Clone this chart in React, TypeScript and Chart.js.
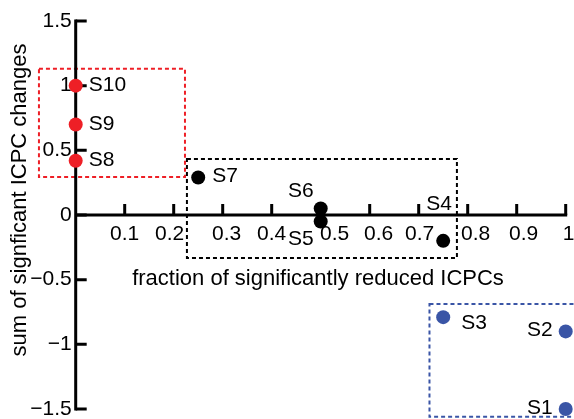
import React, { useEffect, useRef } from "react";
import { Chart, registerables } from "chart.js";

Chart.register(...registerables);

// ---- data ----
const pointNames = ["S1", "S2", "S3", "S4", "S5", "S6", "S7", "S8", "S9", "S10"];
const fractionReduced = [1.0, 1.0, 0.75, 0.75, 0.5, 0.5, 0.25, 0, 0, 0];
const sumChanges = [-1.5, -0.9, -0.79, -0.2, -0.05, 0.05, 0.29, 0.42, 0.7, 1.0];
const pointGroup = ["blue", "blue", "blue", "black", "black", "black", "black", "red", "red", "red"];

const xTickValues = [0.1, 0.2, 0.3, 0.4, 0.5, 0.6, 0.7, 0.8, 0.9, 1];
const xTickLabels = ["0.1", "0.2", "0.3", "0.4", "0.5", "0.6", "0.7", "0.8", "0.9", "1"];
const yTickValues = [-1.5, -1, -0.5, 0, 0.5, 1, 1.5];
const yTickLabels = ["\u22121.5", "\u22121", "\u22120.5", "0", "0.5", "1", "1.5"];

const boxGroup = ["red", "black", "blue"];
const boxXMin = [-0.075, 0.227, 0.722];
const boxXMax = [0.223, 0.778, 1.03];
const boxYMin = [0.294, -0.333, -1.56];
const boxYMax = [1.13, 0.433, -0.688];

const xTitle = "fraction of significantly reduced ICPCs";
const yTitle = "sum of signficant ICPC changes";

// ---- styles ----
const groupColors: Record<string, string> = {
  red: "#ee1f26",
  black: "#000000",
  blue: "#3a55a6",
};
const FONT = '"Liberation Sans", Arial, sans-serif';
// horizontal nudge (px) of each x tick label, as hand-placed in the original figure
const xTickLabelShift = [0, -4, 4, 0, 14, 9, 1, 8, 7, 3];
// label placement per point: [align, dx, dy]
const labelPlacement: [CanvasTextAlign, number, number][] = [
  ["right", -13, -1], // S1
  ["right", -13, -1], // S2
  ["left", 18, 6], // S3
  ["center", -4, -37], // S4
  ["right", -7, 18], // S5
  ["right", -7, -17], // S6
  ["left", 14, -1], // S7
  ["left", 13, 0], // S8
  ["left", 13, 0], // S9
  ["left", 13, 0], // S10
];

const customAxes = {
  id: "customAxes",
  beforeDatasetsDraw(chart: any) {
    const { ctx } = chart;
    const xs = chart.scales.x;
    const ys = chart.scales.y;
    ctx.save();
    // dashed boxes
    boxGroup.forEach((g, i) => {
      const l = xs.getPixelForValue(boxXMin[i]);
      const r = xs.getPixelForValue(boxXMax[i]);
      const t = ys.getPixelForValue(boxYMax[i]);
      const b = ys.getPixelForValue(boxYMin[i]);
      ctx.strokeStyle = groupColors[g];
      ctx.lineWidth = 2;
      ctx.setLineDash([4, 3]);
      ctx.strokeRect(l, t, r - l, b - t);
    });
    ctx.setLineDash([]);

    const x0 = xs.getPixelForValue(0);
    const y0 = ys.getPixelForValue(0);
    ctx.strokeStyle = "#000";
    ctx.lineWidth = 3;
    ctx.lineCap = "square";
    ctx.beginPath();
    ctx.moveTo(x0, ys.getPixelForValue(yTickValues[yTickValues.length - 1]));
    ctx.lineTo(x0, ys.getPixelForValue(yTickValues[0]));
    ctx.moveTo(x0, y0);
    ctx.lineTo(xs.getPixelForValue(xTickValues[xTickValues.length - 1]), y0);
    ctx.stroke();
    ctx.lineCap = "butt";
    ctx.beginPath();
    xTickValues.forEach((v) => {
      const px = xs.getPixelForValue(v);
      ctx.moveTo(px, y0);
      ctx.lineTo(px, y0 - 11);
    });
    yTickValues.forEach((v) => {
      const py = ys.getPixelForValue(v);
      ctx.moveTo(x0, py);
      ctx.lineTo(x0 + 11, py);
    });
    ctx.stroke();

    ctx.fillStyle = "#000";
    ctx.font = `21px ${FONT}`;
    ctx.textAlign = "center";
    ctx.textBaseline = "middle";
    xTickValues.forEach((v, i) => {
      ctx.fillText(xTickLabels[i], xs.getPixelForValue(v) + xTickLabelShift[i], y0 + 19);
    });
    ctx.textAlign = "right";
    yTickValues.forEach((v, i) => {
      ctx.fillText(yTickLabels[i], x0 - 4, ys.getPixelForValue(v));
    });

    ctx.font = `22px ${FONT}`;
    ctx.textAlign = "center";
    ctx.textBaseline = "alphabetic";
    ctx.fillText(xTitle, 318, y0 + 70);
    ctx.translate(25.5, 200);
    ctx.rotate(-Math.PI / 2);
    ctx.fillText(yTitle, 0, 0);
    ctx.restore();
  },
  afterDatasetsDraw(chart: any) {
    const { ctx } = chart;
    const xs = chart.scales.x;
    const ys = chart.scales.y;
    ctx.save();
    ctx.fillStyle = "#000";
    ctx.font = `21px ${FONT}`;
    ctx.textBaseline = "middle";
    pointNames.forEach((name, i) => {
      const [align, dx, dy] = labelPlacement[i];
      ctx.textAlign = align;
      ctx.fillText(name, xs.getPixelForValue(fractionReduced[i]) + dx, ys.getPixelForValue(sumChanges[i]) + dy);
    });
    ctx.restore();
  },
};

export default function App() {
  const ref = useRef<HTMLCanvasElement | null>(null);
  useEffect(() => {
    if (!ref.current) return;
    const groups = ["red", "black", "blue"];
    const datasets = groups.map((g) => ({
      label: g,
      data: pointNames
        .map((_, i) => i)
        .filter((i) => pointGroup[i] === g)
        .map((i) => ({ x: fractionReduced[i], y: sumChanges[i] })),
      backgroundColor: groupColors[g],
      borderColor: groupColors[g],
      borderWidth: 0,
      pointRadius: 7,
      pointHoverRadius: 7,
      clip: false as any,
    }));
    const chart = new Chart(ref.current, {
      type: "scatter",
      data: { datasets },
      options: {
        responsive: false,
        animation: false,
        layout: { padding: { left: 36.5, right: 8.3, top: 21, bottom: 10 } },
        plugins: { legend: { display: false }, tooltip: { enabled: false } },
        scales: {
          x: { type: "linear", min: -0.08, max: 1.0, display: false },
          y: { type: "linear", min: -1.5, max: 1.5, display: false },
        },
      },
      plugins: [customAxes],
    });
    return () => chart.destroy();
  }, []);
  return (
    <div style={{ position: "fixed", left: 0, top: 0, width: 574, height: 419, background: "#fff" }}>
      <canvas ref={ref} width={574} height={419} />
    </div>
  );
}
